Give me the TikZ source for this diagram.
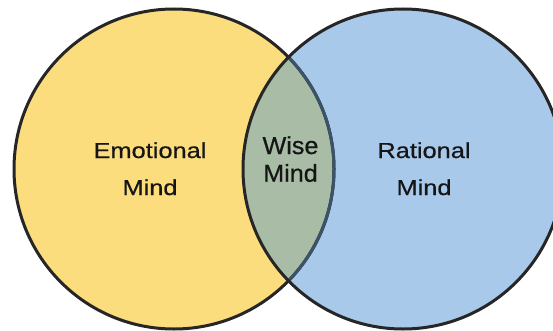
\documentclass[tikz,border=0pt]{standalone}
\usepackage{fontspec}
\newfontfamily\sidefont[FakeStretch=1.17,FakeBold=0.6]{Liberation Sans}
\newfontfamily\wisefont[FakeStretch=1.03,FakeBold=0.6]{Liberation Sans}
\definecolor{emoyellow}{HTML}{FCDD7E}
\definecolor{ratblue}{HTML}{A9C9EB}
\definecolor{wisegreen}{HTML}{A8BCA6}
\definecolor{ringline}{HTML}{262626}
\definecolor{innerline}{HTML}{3B5369}
\definecolor{inktext}{HTML}{151515}
\tikzset{
  ring/.style={line width=3pt, draw=ringline},
  sidetext/.style={inner sep=0pt, anchor=base, font=\sidefont\fontsize{21.7}{26}\selectfont, text=inktext},
  wisetext/.style={inner sep=0pt, anchor=base, font=\wisefont\fontsize{24.4}{29}\selectfont, text=inktext}
}
\begin{document}
\begin{tikzpicture}[x=1pt,y=-1pt]
\useasboundingbox (0,0) rectangle (553,331);
\fill[white] (0,0) rectangle (553,331);
\begin{scope}
\clip (0,0) rectangle (553,331);
\coordinate (lc) at (174,169);
\coordinate (rc) at (403,169);
\fill[emoyellow] (lc) circle (160);
\fill[ratblue] (rc) circle (160);
\begin{scope}
  \clip (lc) circle (160);
  \fill[wisegreen] (rc) circle (160);
\end{scope}
\draw[ring] (lc) circle (160);
\begin{scope}
  \clip (rc) circle (160);
  \draw[line width=3pt, draw=innerline] (lc) circle (160);
\end{scope}
\draw[ring] (rc) circle (160);
\end{scope}
\node[sidetext] (emo1) at (150,158) {Emotional};
\node[sidetext] (emo2) at (150,195) {Mind};
\node[sidetext] (rat1) at (424,158) {Rational};
\node[sidetext] (rat2) at (424,195) {Mind};
\node[wisetext] (wise1) at (290.5,154) {Wise};
\node[wisetext] (wise2) at (290.5,181.7) {Mind};
\end{tikzpicture}
\end{document}
